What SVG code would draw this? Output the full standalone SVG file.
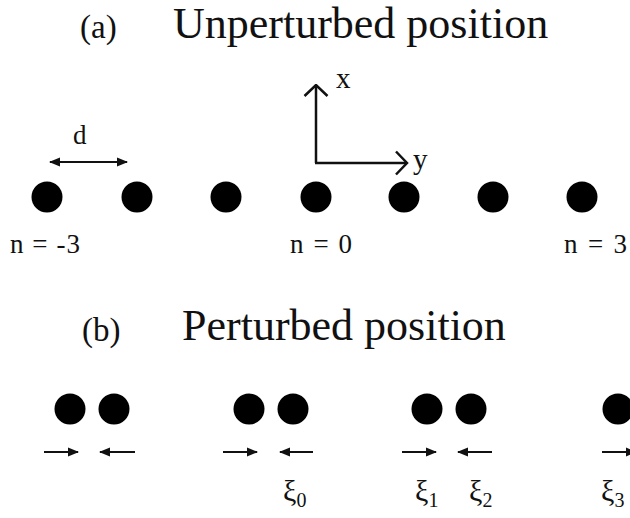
<svg xmlns="http://www.w3.org/2000/svg" width="630" height="518" viewBox="0 0 630 518">
  <style>
    text { font-family: "Liberation Serif", "Times New Roman", serif; fill: #111; }
    .title { font-size: 44px; }
    .tag { font-size: 33px; }
    .lbl { font-size: 27px; }
    .d { font-size: 27px; }
    .ax { font-size: 29px; }
    .xi { font-size: 30px; }
    .sub { font-size: 20px; }
    .dot { fill: #000; }
    .line { stroke: #111; stroke-width: 2.2; fill: none; }
    .axis { stroke: #111; stroke-width: 2.5; fill: none; }
  </style>
  <defs>
    <marker id="tri" markerUnits="userSpaceOnUse" markerWidth="11" markerHeight="11" viewBox="0 0 11 11" refX="10" refY="5.5" orient="auto-start-reverse">
      <path d="M0,1 L11,5.5 L0,10 z" fill="#111"/>
    </marker>
    <marker id="chev" markerUnits="userSpaceOnUse" markerWidth="14" markerHeight="26" viewBox="0 0 14 26" refX="12.5" refY="13" orient="auto">
      <path d="M1.5,1.5 L12.5,13 L1.5,24.5" fill="none" stroke="#111" stroke-width="2.5"/>
    </marker>
  </defs>
  <rect width="630" height="518" fill="#fff"/>

  <g id="title-a">
    <text class="tag" x="80" y="38">(a)</text>
    <text class="title" x="173" y="38">Unperturbed position</text>
  </g>
  <g id="title-b">
    <text class="tag" x="82" y="341">(b)</text>
    <text class="title" x="182" y="340">Perturbed position</text>
  </g>

  <g id="axis-labels">
    <text class="ax" x="336" y="88">x</text>
    <text class="ax" x="413" y="169">y</text>
    <text class="d" x="73" y="144">d</text>
  </g>

  <g id="row-a">
    <circle class="dot" cx="47" cy="197" r="15.5"/>
    <circle class="dot" cx="137" cy="197" r="15.5"/>
    <circle class="dot" cx="226" cy="197" r="15.5"/>
    <circle class="dot" cx="316" cy="197" r="15.5"/>
    <circle class="dot" cx="404" cy="197" r="15.5"/>
    <circle class="dot" cx="493" cy="197" r="15.5"/>
    <circle class="dot" cx="582" cy="197" r="15.5"/>
  </g>
  <g id="row-a-labels">
    <text class="lbl" x="10" y="253" textLength="70" lengthAdjust="spacing">n = -3</text>
    <text class="lbl" x="290" y="253" textLength="62" lengthAdjust="spacing">n = 0</text>
    <text class="lbl" x="564" y="253" textLength="63" lengthAdjust="spacing">n = 3</text>
  </g>

  <g id="row-b">
    <circle class="dot" cx="70" cy="409" r="15.5"/>
    <circle class="dot" cx="114" cy="409" r="15.5"/>
    <circle class="dot" cx="249" cy="409" r="15.5"/>
    <circle class="dot" cx="293" cy="409" r="15.5"/>
    <circle class="dot" cx="427" cy="409" r="15.5"/>
    <circle class="dot" cx="471" cy="409" r="15.5"/>
    <circle class="dot" cx="618" cy="409" r="15.5"/>
  </g>
  <g id="row-b-labels">
    <text x="283" y="501"><tspan class="xi">ξ</tspan><tspan class="sub" dy="6">0</tspan></text>
    <text x="415" y="501"><tspan class="xi">ξ</tspan><tspan class="sub" dy="6">1</tspan></text>
    <text x="469" y="501"><tspan class="xi">ξ</tspan><tspan class="sub" dy="6">2</tspan></text>
    <text x="601" y="501"><tspan class="xi">ξ</tspan><tspan class="sub" dy="6">3</tspan></text>
  </g>

  <g id="connectors">
    <path class="axis" d="M316,163 L316,85" marker-end="url(#chev)"/>
    <path class="axis" d="M315,163 L407,163" marker-end="url(#chev)"/>
    <path class="line" d="M50,162 L127,162" marker-start="url(#tri)" marker-end="url(#tri)"/>
    <path class="line" d="M44,452 L78,452" marker-end="url(#tri)"/>
    <path class="line" d="M135,452 L100,452" marker-end="url(#tri)"/>
    <path class="line" d="M223,452 L257,452" marker-end="url(#tri)"/>
    <path class="line" d="M313,452 L280,452" marker-end="url(#tri)"/>
    <path class="line" d="M402,452 L436,452" marker-end="url(#tri)"/>
    <path class="line" d="M492,452 L458,452" marker-end="url(#tri)"/>
    <path class="line" d="M602,452 L636,452" marker-end="url(#tri)"/>
  </g>
</svg>
